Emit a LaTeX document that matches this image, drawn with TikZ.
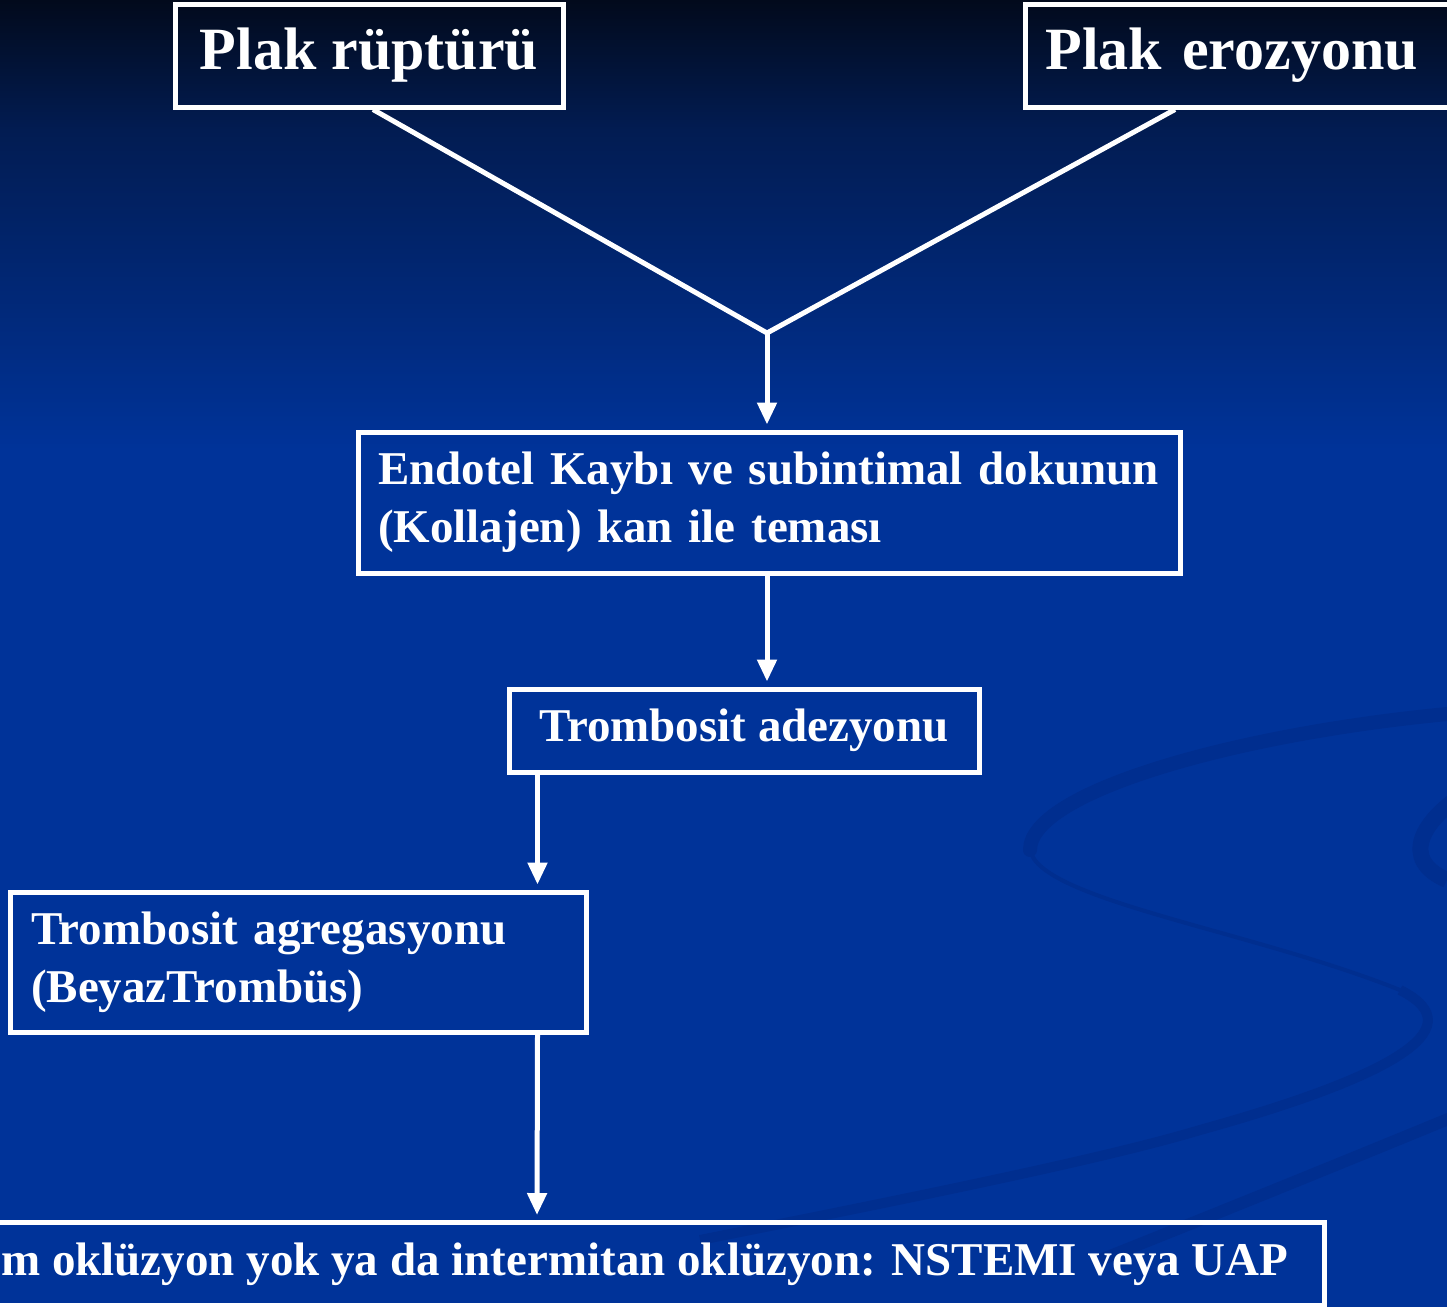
\documentclass[tikz,border=0pt]{standalone}
\usepackage{fontspec}
\setmainfont{Liberation Serif}
\usetikzlibrary{arrows.meta,calc}
\definecolor{bgtop}{RGB}{2,10,28}
\definecolor{bgmid}{RGB}{2,28,82}
\definecolor{bgblue}{RGB}{0,51,153}
\definecolor{swirl}{RGB}{0,46,143}
\tikzset{
  flowbox/.style={draw=white, line width=5pt, text=white, inner ysep=0pt, inner xsep=20pt, font=\bfseries\fontsize{47}{58}\selectfont},
  conn/.style={draw=white, line width=5pt},
  arr/.style={conn, -{Triangle[width=19pt,length=22pt]}, shorten >=5pt},
}
\begin{document}
\begin{tikzpicture}[x=1pt,y=-1pt]
\useasboundingbox (0,0) rectangle (1447,1307);
\clip (0,0) rectangle (1447,1307);
% background
\shade[top color=bgtop, bottom color=bgmid] (0,0) rectangle (1447,130);
\shade[top color=bgmid, bottom color=bgblue] (0,130) rectangle (1447,450);
\fill[bgblue] (0,450) rectangle (1447,1307);
% faint swirl
\draw[swirl, line width=14pt, line cap=round] (1470,712) .. controls (1250,730) and (1030,790) .. (1030,850);
\draw[swirl, line width=4pt] (1030,850) .. controls (1040,900) and (1250,930) .. (1400,990);
\draw[swirl, line width=10pt] (1400,990) .. controls (1480,1030) and (1380,1080) .. (1200,1130) .. controls (1100,1160) and (900,1200) .. (700,1240);
\draw[swirl, line width=16pt] (1470,790) .. controls (1420,820) and (1400,860) .. (1447,880);
\draw[swirl, line width=12pt] (1470,1110) .. controls (1300,1180) and (1200,1220) .. (1100,1260);
% nodes
\node[flowbox, minimum width=388pt, minimum height=103pt, font=\bfseries\fontsize{60}{70}\selectfont] (r1) at (369,55.5) {Plak rüptürü};
\node[flowbox, anchor=west, minimum height=103pt, text width=420pt, align=left, font=\bfseries\fontsize{60}{70}\selectfont] (r2) at (1023,55.5) {Plak erozyonu};
\node[flowbox, minimum width=822pt, minimum height=141pt, text width=782pt, align=left] (n3) at (769,502.5) {Endotel Kaybı ve subintimal dokunun\\(Kollajen) kan ile teması};
\node[flowbox, minimum width=470pt, minimum height=83pt] (n4) at (744,730.5) {Trombosit adezyonu};
\node[flowbox, minimum width=576pt, minimum height=140pt, text width=534pt, align=left, inner xsep=21pt] (n5) at (298,962) {Trombosit agregasyonu\\(BeyazTrombüs)};
\node[flowbox, anchor=east, minimum height=83pt, inner xsep=36pt] (n6) at (1327,1264) {m oklüzyon yok ya da intermitan oklüzyon: NSTEMI veya UAP};
% connectors
\coordinate (m) at (767,333);
\coordinate (a4) at ($(n4.south west)+(31pt,0)$);
\coordinate (a5) at (a4 |- n5.north);
\coordinate (b5) at ($(n5.south west)+(530pt,0)$);
\coordinate (b6) at ($(n6.north east)+(-790pt,0)$);
\draw[conn, line join=miter] ([xshift=4pt]r1.south) -- (m) -- ([xshift=152pt]r2.south west);
\draw[arr] (m) -- (m |- n3.north);
\draw[arr] ([xshift=-2pt]n3.south) -- ([xshift=-2pt]n3.south |- n4.north);
\draw[arr] (a4) -- (a5);
\draw[arr] (b5) -- (b6);
\end{tikzpicture}
\end{document}
